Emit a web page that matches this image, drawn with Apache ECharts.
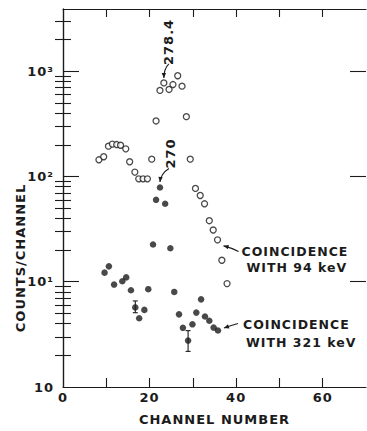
<!DOCTYPE html>
<html>
<head>
<meta charset="utf-8">
<script src="https://cdn.jsdelivr.net/npm/echarts@6/dist/echarts.min.js"></script>
<style>
    html, body { margin: 0; padding: 0; background: #fff; }
    #chart { width: 367px; height: 431px; }
    #chart text { letter-spacing: 1px; }
</style>
</head>
<body>
<div id="chart"></div>
<script>
const ink = '#1b1b1b';
const font = 'DejaVu Sans';

// coincidence with 94 keV (open circles)
const openChannels = [8.3, 9.4, 10.5, 11.4, 12.4, 13.3, 14.5, 15.4, 16.6, 17.5, 18.5, 19.5, 20.5, 21.5, 22.4,
    23.3, 24.5, 25.4, 26.5, 27.5, 28.5, 29.4, 30.6, 31.7, 32.7, 33.8, 34.7, 35.7, 36.7, 37.9];
const openCounts = [144, 154, 194, 203, 201, 198, 183, 138, 110, 95, 95, 95, 146, 337, 657,
    774, 671, 747, 906, 721, 370, 146, 77, 66, 55, 38, 31, 25, 16, 9.6];

// coincidence with 321 keV (filled circles)
const filledChannels = [9.6, 10.6, 11.8, 13.7, 14.6, 15.7, 16.7, 17.6, 18.8, 19.7, 20.8, 21.5, 22.4,
    23.6, 24.8, 25.7, 26.8, 27.7, 28.9, 29.9, 30.8, 31.9, 32.8, 33.8, 34.8, 35.8];
const filledCounts = [12.2, 14, 9.4, 10.1, 11, 8.3, 5.7, 4.5, 5.4, 8.5, 22.6, 60, 78.6,
    55, 20.8, 8.0, 4.9, 3.65, 2.76, 3.94, 5.09, 6.8, 4.67, 4.26, 3.67, 3.44];

// error bars drawn on two of the 321 keV points
const errChannels = [16.7, 28.9];
const errLow = [5.08, 2.18];
const errHigh = [6.57, 3.43];

const xLabels = [0, 20, 40, 60];
const xTicks = [10, 20, 30, 40, 50, 60];
const decadeLabels = { 1: '10', 10: '10¹', 100: '10²', 1000: '10³' };

const yMin = 1;
const yMax = 3900;
const xMax = 70;

// log tick values: decades get long ticks, 2..9 short ones
const decadeTicks = [10, 100, 1000];
const minorTicks = [];
[1, 10, 100, 1000].forEach(d => {
    for (let m = 2; m <= 9; m++) {
        if (m * d <= yMax) minorTicks.push(m * d);
    }
});

const zip = (a, b) => a.map((v, i) => [v, b[i]]);

// annotation anchors: peak labels and the two legend notes
const notes = [
    [openChannels[15], openCounts[15]],
    [filledChannels[12], filledCounts[12]],
    [openChannels[27], openCounts[27]],
    [filledChannels[25], filledCounts[25]]
];

const textStyle = (text, x, y, size, extra) => Object.assign({
    text,
    x,
    y,
    fill: ink,
    font: `bold ${size}px "${font}"`,
    align: 'left',
    verticalAlign: 'middle'
}, extra || {});

const arrow = (p, tail, ctrl, tip) => {
    const t = [p[0] + tip[0], p[1] + tip[1]];
    const c = [p[0] + ctrl[0], p[1] + ctrl[1]];
    const ang = Math.atan2(t[1] - c[1], t[0] - c[0]);
    const len = 5, half = 2.2;
    const back = [t[0] - len * Math.cos(ang), t[1] - len * Math.sin(ang)];
    return [
        {
            type: 'bezierCurve',
            shape: {
                x1: p[0] + tail[0], y1: p[1] + tail[1],
                x2: t[0], y2: t[1],
                cpx1: c[0], cpy1: c[1]
            },
            style: { stroke: ink, lineWidth: 1.1, fill: null }
        },
        {
            type: 'polygon',
            shape: {
                points: [
                    t,
                    [back[0] - half * Math.sin(ang), back[1] + half * Math.cos(ang)],
                    [back[0] + half * Math.sin(ang), back[1] - half * Math.cos(ang)]
                ]
            },
            style: { fill: ink }
        }
    ];
};

const renderNote = (params, api) => {
    const p = api.coord([api.value(0), api.value(1)]);
    let children = [];
    switch (params.dataIndex) {
        case 0:
            children = arrow(p, [5, -19], [0, -14], [0, -5]).concat([{
                type: 'text',
                x: p[0] + 5, y: p[1] - 41, rotation: Math.PI / 2,
                style: textStyle('278.4', 0, 0, 13, { align: 'center' })
            }]);
            break;
        case 1:
            children = arrow(p, [9, -19], [1, -14], [0, -5.5]).concat([{
                type: 'text',
                x: p[0] + 11, y: p[1] - 34, rotation: Math.PI / 2,
                style: textStyle('270', 0, 0, 13, { align: 'center' })
            }]);
            break;
        case 2:
            children = arrow(p, [21, 11.6], [14, 8], [6, 6]).concat([
                { type: 'text', style: textStyle('COINCIDENCE', p[0] + 24, p[1] + 11.5, 12.5) },
                { type: 'text', style: textStyle('WITH 94 keV', p[0] + 29, p[1] + 28, 12.5) }
            ]);
            break;
        case 3:
            children = arrow(p, [20, -7], [13, -5], [6, -2.5]).concat([
                { type: 'text', style: textStyle('COINCIDENCE', p[0] + 25, p[1] - 6.3, 12.5) },
                { type: 'text', style: textStyle('WITH 321 keV', p[0] + 28, p[1] + 12, 12.5) }
            ]);
            break;
    }
    return { type: 'group', children };
};

// extra log axes only carry tick marks
const tickAxis = (position, values, length, showLine) => ({
    type: 'log',
    logBase: 10,
    position,
    min: yMin,
    max: yMax,
    axisLine: { show: showLine, lineStyle: { color: ink, width: 1.2 } },
    axisTick: { show: true, inside: true, length, customValues: values, lineStyle: { color: ink, width: 1.1 } },
    axisLabel: { show: false },
    splitLine: { show: false }
});

const chart = echarts.init(document.getElementById('chart'), null, { renderer: 'svg' });

const option = {
    animation: false,
    backgroundColor: '#fff',
    textStyle: { fontFamily: font, color: ink },
    grid: { left: 63, right: 1, top: 9, bottom: 34 },
    xAxis: [
        {
            type: 'value',
            min: 0,
            max: xMax,
            interval: 10,
            name: 'CHANNEL NUMBER',
            nameLocation: 'middle',
            nameGap: 26,
            nameTextStyle: { fontFamily: font, fontWeight: 'bold', fontSize: 13, color: ink },
            axisLine: { show: true, lineStyle: { color: ink, width: 1.2 } },
            axisTick: { show: true, inside: true, length: 9, customValues: xTicks, lineStyle: { color: ink, width: 1.1 } },
            axisLabel: {
                margin: 4,
                fontFamily: font,
                fontWeight: 'bold',
                fontSize: 13,
                color: ink,
                customValues: xLabels,
                formatter: v => String(v)
            },
            splitLine: { show: false }
        },
        {
            type: 'value',
            position: 'top',
            min: 0,
            max: xMax,
            interval: 10,
            axisLine: { show: true, lineStyle: { color: ink, width: 1.2 } },
            axisTick: { show: true, inside: true, length: 8, customValues: xTicks, lineStyle: { color: ink, width: 1.1 } },
            axisLabel: { show: false },
            splitLine: { show: false }
        }
    ],
    yAxis: [
        {
            type: 'log',
            logBase: 10,
            min: yMin,
            max: yMax,
            axisLine: { show: true, lineStyle: { color: ink, width: 1.2 } },
            axisTick: { show: true, inside: true, length: 8, customValues: minorTicks, lineStyle: { color: ink, width: 1.1 } },
            axisLabel: {
                margin: 9,
                fontFamily: font,
                fontWeight: 'bold',
                fontSize: 13,
                color: ink,
                formatter: v => decadeLabels[Math.round(v)] && Math.abs(v - Math.round(v)) < 1e-6 ? decadeLabels[Math.round(v)] : ''
            },
            splitLine: { show: false }
        },
        tickAxis('right', minorTicks, 8, true),
        tickAxis('left', decadeTicks, 16, false),
        tickAxis('right', decadeTicks, 16, false)
    ],
    graphic: [
        {
            type: 'text',
            x: 20,
            y: 258,
            rotation: Math.PI / 2,
            style: textStyle('COUNTS/CHANNEL', 0, 0, 13, { align: 'center' })
        }
    ],
    series: [
        {
            type: 'scatter',
            name: 'coincidence with 94 keV',
            data: zip(openChannels, openCounts),
            symbol: 'circle',
            symbolSize: 6,
            itemStyle: { color: '#fff', borderColor: ink, borderWidth: 1.3 }
        },
        {
            type: 'custom',
            name: 'error bars',
            silent: true,
            data: errChannels.map((c, i) => [c, errLow[i], errHigh[i]]),
            renderItem: (params, api) => {
                const lo = api.coord([api.value(0), api.value(1)]);
                const hi = api.coord([api.value(0), api.value(2)]);
                const w = 2.5;
                return {
                    type: 'group',
                    children: [
                        { type: 'line', shape: { x1: lo[0], y1: lo[1], x2: hi[0], y2: hi[1] }, style: { stroke: ink, lineWidth: 1.1 } },
                        { type: 'line', shape: { x1: lo[0] - w, y1: lo[1], x2: lo[0] + w, y2: lo[1] }, style: { stroke: ink, lineWidth: 1.1 } },
                        { type: 'line', shape: { x1: hi[0] - w, y1: hi[1], x2: hi[0] + w, y2: hi[1] }, style: { stroke: ink, lineWidth: 1.1 } }
                    ]
                };
            }
        },
        {
            type: 'scatter',
            name: 'coincidence with 321 keV',
            data: zip(filledChannels, filledCounts),
            symbol: 'circle',
            symbolSize: 6.5,
            itemStyle: { color: ink }
        },
        {
            type: 'custom',
            name: 'notes',
            silent: true,
            data: notes,
            renderItem: renderNote
        }
    ]
};

chart.setOption(option);
</script>
</body>
</html>
